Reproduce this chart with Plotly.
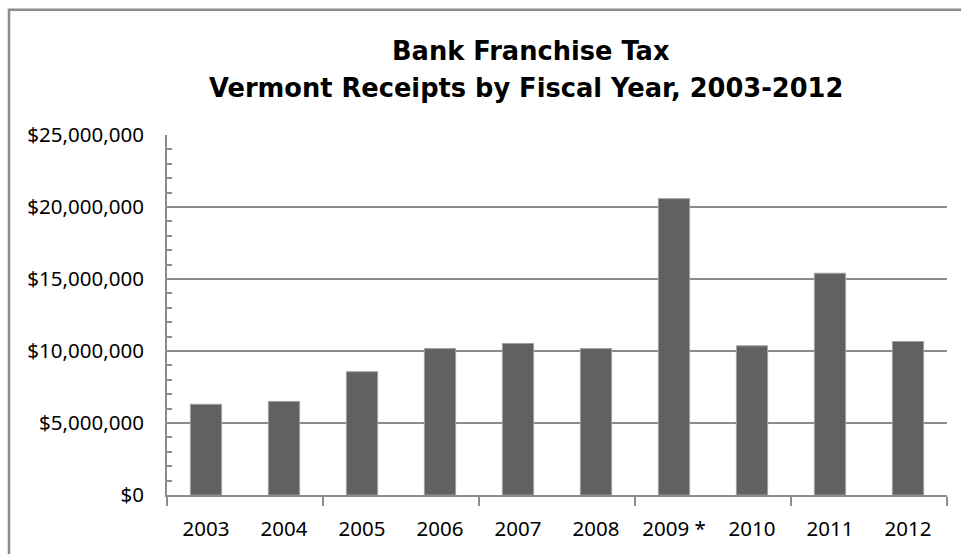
import plotly.graph_objects as go

# Fiscal years and Vermont bank franchise tax receipts (USD)
years = ["2003", "2004", "2005", "2006", "2007", "2008", "2009 *", "2010", "2011", "2012"]
receipts = [6300000, 6500000, 8560000, 10170000, 10520000, 10170000,
            20580000, 10360000, 15400000, 10660000]

title_line1 = "Bank Franchise Tax"
title_line2 = "Vermont Receipts by Fiscal Year, 2003-2012"

W, H = 961, 554
ML, MR, MT, MB = 167, 14, 135, 57
PW, PH = W - ML - MR, H - MT - MB

GRID = "#8c8c8c"
BAR = "#616161"
TICK_FONT = dict(family="Noto Sans, Open Sans, sans-serif", size=20.5, color="#000000")

pos = list(range(len(years)))

fig = go.Figure(
    go.Bar(
        x=pos,
        y=receipts,
        width=0.4,
        marker=dict(color=BAR, line=dict(color="#a0a0a0", width=1)),
        hoverinfo="skip",
    )
)


def px_x(p):
    return (p - ML) / PW


def px_y(p):
    return (H - MB - p) / PH


# outer chart frame (only left and top edges fall inside the page)
fig.add_shape(type="rect", xref="paper", yref="paper",
              x0=px_x(9), x1=px_x(W + 20), y0=px_y(H + 20), y1=px_y(9),
              line=dict(color=GRID, width=2.5), fillcolor="rgba(0,0,0,0)", layer="below")

title_font = dict(family="DejaVu Sans, Verdana, sans-serif", size=25.7, color="#000000")
fig.add_annotation(text="<b>" + title_line1 + "</b>", xref="paper", yref="paper",
                   x=px_x(531), y=px_y(51), xanchor="center", yanchor="middle",
                   showarrow=False, font=title_font)
fig.add_annotation(text="<b>" + title_line2 + "</b>", xref="paper", yref="paper",
                   x=px_x(526), y=px_y(88), xanchor="center", yanchor="middle",
                   showarrow=False, font=title_font)

fig.update_layout(
    width=W, height=H,
    margin=dict(l=ML, r=MR, t=MT, b=MB, pad=0),
    paper_bgcolor="white", plot_bgcolor="white",
    showlegend=False,
    bargap=0.6,
)

fig.update_xaxes(
    range=[-0.5, len(years) - 0.5],
    tickmode="array", tickvals=pos, ticktext=years,
    ticks="", showgrid=False, zeroline=False,
    showline=True, linecolor=GRID, linewidth=2,
    tickfont=TICK_FONT, ticklabelstandoff=14,
    minor=dict(tickmode="linear", tick0=-0.5, dtick=2, ticks="outside",
               ticklen=9, tickwidth=2, tickcolor=GRID, showgrid=False),
)

fig.update_yaxes(
    range=[0, 25000000],
    tickmode="linear", tick0=0, dtick=5000000,
    tickprefix="$", tickformat=",.0f",
    ticks="inside", ticklen=5, tickwidth=2, tickcolor=GRID,
    showgrid=True, gridcolor=GRID, gridwidth=2,
    zeroline=False,
    showline=True, linecolor=GRID, linewidth=2,
    tickfont=TICK_FONT, ticklabelstandoff=17,
    minor=dict(tickmode="linear", tick0=0, dtick=1000000, ticks="inside",
               ticklen=5, tickwidth=2, tickcolor=GRID, showgrid=False),
)

fig.write_html("out.html")
